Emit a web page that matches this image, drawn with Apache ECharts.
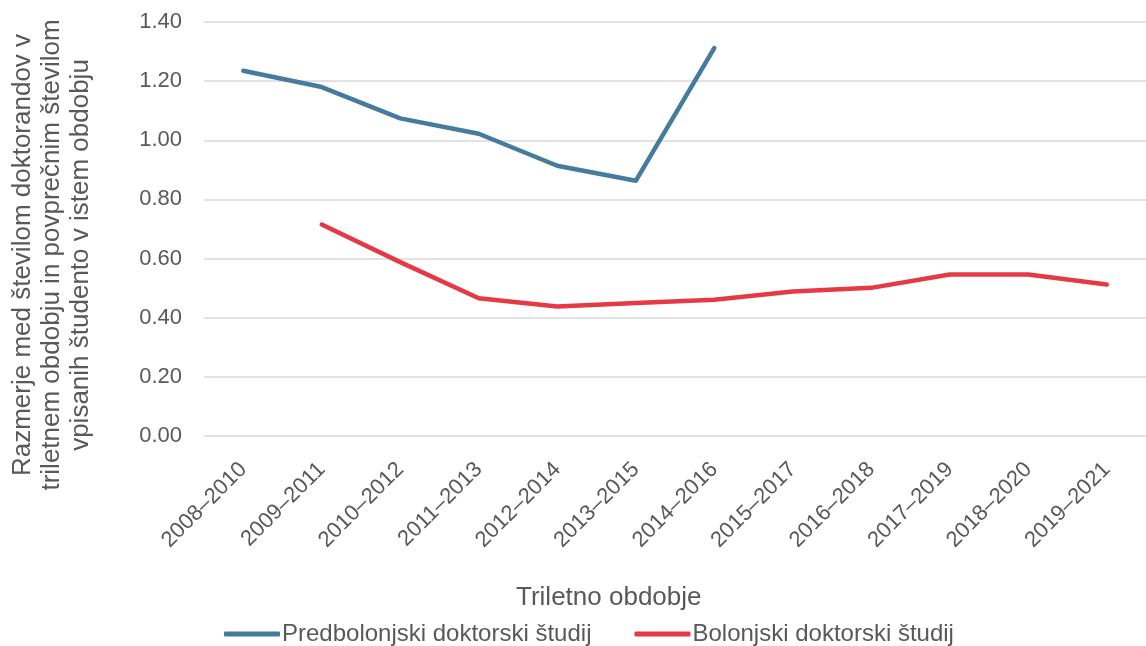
<!DOCTYPE html>
<html>
<head>
<meta charset="utf-8">
<script src="https://cdn.jsdelivr.net/npm/echarts@6/dist/echarts.min.js"></script>
<style>
  html, body { margin: 0; padding: 0; background: #fff; }
  #chart { width: 1146px; height: 646px; }
</style>
</head>
<body>
<div id="chart"></div>
<script>
const periods = ['2008–2010', '2009–2011', '2010–2012', '2011–2013', '2012–2014', '2013–2015',
  '2014–2016', '2015–2017', '2016–2018', '2017–2019', '2018–2020', '2019–2021']
const preBologna = [1.235, 1.18, 1.074, 1.022, 0.914, 0.863, 1.312, null, null, null, null, null]
const bologna = [null, 0.715, 0.588, 0.466, 0.438, 0.45, 0.461, 0.489, 0.501, 0.546, 0.546, 0.512]
const seriesNames = ['Predbolonjski doktorski študij', 'Bolonjski doktorski študij']
const yTitle = 'Razmerje med številom doktorandov v\ntriletnem obdobju in povprečnim številom\nvpisanih študento v istem obdobju'

const font = 'Liberation Sans, Arial, sans-serif'
const grey = '#595959'

const chart = echarts.init(document.getElementById('chart'))
chart.setOption({
  animation: false,
  textStyle: { fontFamily: font },
  title: {
    text: 'Triletno obdobje',
    left: 511,
    top: 580,
    textStyle: { fontFamily: font, fontSize: 26, fontWeight: 'normal', color: grey }
  },
  legend: {
    left: 219,
    top: 617,
    icon: 'roundRect',
    itemWidth: 56,
    itemHeight: 5,
    itemGap: 43,
    textStyle: { fontFamily: font, fontSize: 24, color: grey, padding: [0, 0, 0, -3] },
    data: seriesNames
  },
  graphic: [{
    type: 'text',
    x: 52,
    y: 255,
    rotation: Math.PI / 2,
    style: {
      text: yTitle,
      font: '26px ' + font,
      fill: grey,
      align: 'center',
      verticalAlign: 'middle',
      lineHeight: 29
    }
  }],
  grid: { left: 204, top: 22, width: 951, height: 414, containLabel: false },
  xAxis: {
    type: 'category',
    data: periods,
    boundaryGap: true,
    axisLine: { show: false },
    axisTick: { show: false },
    axisLabel: { rotate: 45, fontSize: 22, color: grey, margin: 30, interval: 0 }
  },
  yAxis: {
    type: 'value',
    min: 0,
    max: 1.4,
    interval: 0.2,
    axisLine: { show: false },
    axisTick: { show: false },
    axisLabel: { fontSize: 22, color: grey, margin: 22, formatter: v => v.toFixed(2) },
    splitLine: { lineStyle: { color: '#d9d9d9', width: 1.5 } }
  },
  series: [
    {
      name: seriesNames[0],
      type: 'line',
      data: preBologna,
      showSymbol: false,
      symbol: 'none',
      color: '#457b9d',
      lineStyle: { width: 4.5, cap: 'round', join: 'round' }
    },
    {
      name: seriesNames[1],
      type: 'line',
      data: bologna,
      showSymbol: false,
      symbol: 'none',
      color: '#e63946',
      lineStyle: { width: 4.5, cap: 'round', join: 'round' }
    }
  ]
})
</script>
</body>
</html>
